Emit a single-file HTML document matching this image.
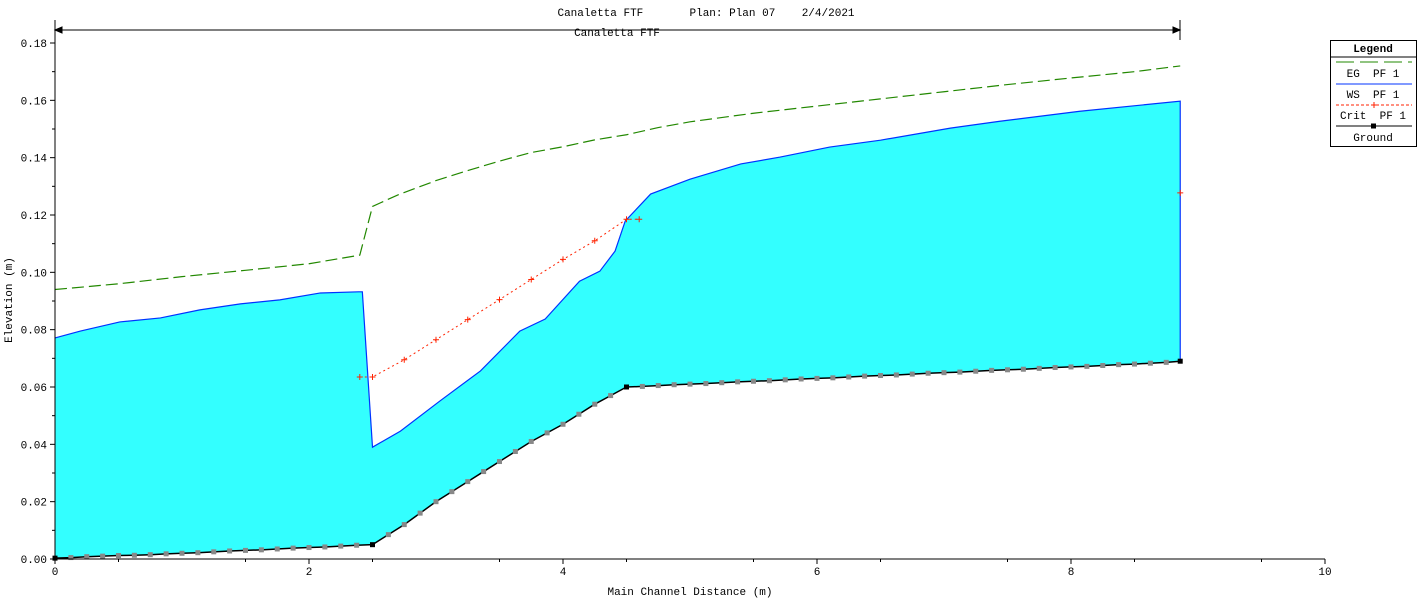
<!DOCTYPE html>
<html><head><meta charset="utf-8"><style>
body{margin:0;background:#fff}
svg{display:block;font-family:"Liberation Mono",monospace;font-size:11px}
</style></head><body>
<svg id="c" width="1423" height="599"></svg>
<script>
const wsX=[0,0.2,0.51,0.83,1.14,1.46,1.77,2.09,2.39,2.42,2.5,2.72,3.03,3.35,3.66,3.86,4.13,4.29,4.41,4.49,4.69,5.0,5.4,5.71,6.1,6.5,7.05,7.44,8.07,8.86];
const wsY=[0.0771,0.0795,0.0827,0.0841,0.0869,0.089,0.0904,0.0928,0.0932,0.0932,0.039,0.0446,0.0551,0.0656,0.0795,0.0837,0.0969,0.1004,0.1074,0.1179,0.1273,0.1325,0.1378,0.1402,0.1437,0.1461,0.1503,0.1527,0.1562,0.1597];
const gX=[0,0.125,0.25,0.375,0.5,0.625,0.75,0.875,1.0,1.125,1.25,1.375,1.5,1.625,1.75,1.875,2.0,2.125,2.25,2.375,2.5,2.625,2.75,2.875,3.0,3.125,3.25,3.375,3.5,3.625,3.75,3.875,4.0,4.125,4.25,4.375,4.5,4.625,4.75,4.875,5.0,5.125,5.25,5.375,5.5,5.625,5.75,5.875,6.0,6.125,6.25,6.375,6.5,6.625,6.75,6.875,7.0,7.125,7.25,7.375,7.5,7.625,7.75,7.875,8.0,8.125,8.25,8.375,8.5,8.625,8.75,8.86];
const gY=[0.0003,0.0005,0.0008,0.001,0.0012,0.0013,0.0015,0.0018,0.002,0.0022,0.0025,0.0028,0.003,0.0032,0.0035,0.0038,0.004,0.0042,0.0045,0.0048,0.005,0.0085,0.012,0.016,0.02,0.0235,0.027,0.0305,0.034,0.0375,0.041,0.044,0.047,0.0505,0.054,0.057,0.060,0.0602,0.0605,0.0608,0.061,0.0612,0.0615,0.0618,0.062,0.0622,0.0625,0.0628,0.063,0.0632,0.0635,0.0638,0.064,0.0642,0.0645,0.0648,0.065,0.0652,0.0655,0.0658,0.066,0.0662,0.0665,0.0668,0.067,0.0672,0.0675,0.0678,0.068,0.0683,0.0686,0.069];
const critX=[2.4,2.5,2.75,3.0,3.25,3.5,3.75,4.0,4.25,4.5,4.6];
const critY=[0.0635,0.0635,0.0695,0.0765,0.0835,0.0905,0.0975,0.1045,0.111,0.1185,0.1185];
const critEndX=[8.86],critEndY=[0.1277];
const egX=[0,0.5,1.0,1.5,2.0,2.4,2.5,2.7,3.0,3.25,3.5,3.75,4.0,4.25,4.5,4.75,5.0,5.5,6.0,6.5,7.0,7.5,8.0,8.5,8.86];
const egY=[0.094,0.096,0.0985,0.1007,0.103,0.106,0.123,0.127,0.132,0.1355,0.1388,0.1418,0.1438,0.1462,0.148,0.1505,0.1525,0.1555,0.158,0.1605,0.163,0.1655,0.1678,0.17,0.172];
const xTicks=[0,2,4,6,8,10];
const yTicks=[0,0.02,0.04,0.06,0.08,0.10,0.12,0.14,0.16,0.18];
const NS='http://www.w3.org/2000/svg',svg=document.getElementById('c');
const X=v=>55+v*127, Y=v=>559-v*2866.7;
function el(t,a,p){const e=document.createElementNS(NS,t);for(const k in a)e.setAttribute(k,a[k]);(p||svg).appendChild(e);return e;}
function txt(x,y,s,a){const e=el('text',Object.assign({x:x,y:y},a||{}));e.textContent=s;return e;}
let d='M'+wsX.map((x,i)=>X(x)+','+Y(wsY[i])).join('L');
for(let i=gX.length-1;i>=0;i--)d+='L'+X(gX[i])+','+Y(gY[i]);
const fill=el('path',{d:d+'Z',fill:'#33ffff'});


const ws=el('path',{d:'M'+wsX.map((x,i)=>X(x)+','+Y(wsY[i])).join('L')+'L'+X(8.86)+','+Y(gY[gY.length-1]),fill:'none',stroke:'#0033ff','stroke-width':1.2});


const eg=el('path',{d:'M'+egX.map((x,i)=>X(x)+','+Y(egY[i])).join('L'),fill:'none',stroke:'#228800','stroke-width':1.2,'stroke-dasharray':'12,5'});


const cr=el('path',{d:'M'+critX.map((x,i)=>X(x)+','+Y(critY[i])).join('L'),fill:'none',stroke:'#ff2200','stroke-width':1,'stroke-dasharray':'2,3'});


critX.concat(critEndX).forEach((x,i)=>{const y=i<critY.length?critY[i]:critEndY[0];
 const m=el('path',{d:`M${X(x)-3},${Y(y)}h6M${X(x)},${Y(y)-3}v6`,stroke:'#ff2200','stroke-width':1});
 
 });
const gl=el('path',{d:'M'+gX.map((x,i)=>X(x)+','+Y(gY[i])).join('L'),fill:'none',stroke:'#000','stroke-width':1.5});


gX.forEach((x,i)=>{const blk=[0,20,36,gX.length-1].includes(i);
 const m=el('rect',{x:X(x)-2.5,y:Y(gY[i])-2.5,width:5,height:5,fill:blk?'#000':'#888'});
 
 });
el('path',{d:'M55,559H1325M55,559V30',stroke:'#000',fill:'none'});
xTicks.forEach(v=>{el('line',{x1:X(v),x2:X(v),y1:559,y2:564,stroke:'#000'});const t=txt(X(v),575,String(v),{'text-anchor':'middle'});
 
 });
for(let k=0;k<10;k++)el('line',{x1:X(k+0.5),x2:X(k+0.5),y1:559,y2:562,stroke:'#000'});
yTicks.forEach(v=>{el('line',{x1:50,x2:55,y1:Y(v),y2:Y(v),stroke:'#000'});const t=txt(47,Y(v)+4,v.toFixed(2),{'text-anchor':'end'});
 
 });
for(let k=0;k<9;k++)el('line',{x1:52,x2:55,y1:Y(0.01+0.02*k),y2:Y(0.01+0.02*k),stroke:'#000'});
el('path',{d:'M55,20V40M1180,20V40M55,30H1180M55,30l7,-3v6zM1180,30l-7,-3v6z',stroke:'#000',fill:'#000'});
const rl=txt(617,36,'Canaletta FTF',{'text-anchor':'middle'});


</script>
<svg width="1423" height="599" style="position:absolute;left:0;top:0;font-family:'Liberation Mono',monospace;font-size:11px">
<text x="706" y="16" text-anchor="middle" xml:space="preserve">Canaletta FTF       Plan: Plan 07    2/4/2021</text>
<text x="690" y="595" text-anchor="middle">Main Channel Distance (m)</text>
<text transform="translate(12,300) rotate(-90)" text-anchor="middle">Elevation (m)</text>
<g>
<rect x="1330.5" y="40.5" width="86" height="106" fill="#fff" stroke="#000"/>
<text x="1373" y="52" text-anchor="middle" font-weight="bold">Legend</text>
<line x1="1331" x2="1416" y1="57" y2="57" stroke="#000"/>
<line x1="1336" x2="1412" y1="62" y2="62" stroke="#228800" stroke-dasharray="18,6"/>
<text x="1373" y="77" text-anchor="middle" xml:space="preserve">EG  PF 1</text>
<line x1="1336" x2="1412" y1="84" y2="84" stroke="#0033ff"/>
<text x="1373" y="98" text-anchor="middle" xml:space="preserve">WS  PF 1</text>
<line x1="1336" x2="1412" y1="105" y2="105" stroke="#ff2200" stroke-dasharray="3,2"/>
<path d="M1371,105h6M1374,102v6" stroke="#ff2200"/>
<text x="1373" y="119" text-anchor="middle" xml:space="preserve">Crit  PF 1</text>
<line x1="1336" x2="1412" y1="126" y2="126" stroke="#000"/>
<rect x="1371" y="123.5" width="5" height="5" fill="#000"/>
<text x="1373" y="141" text-anchor="middle">Ground</text>
</g>
</svg>
</body></html>
